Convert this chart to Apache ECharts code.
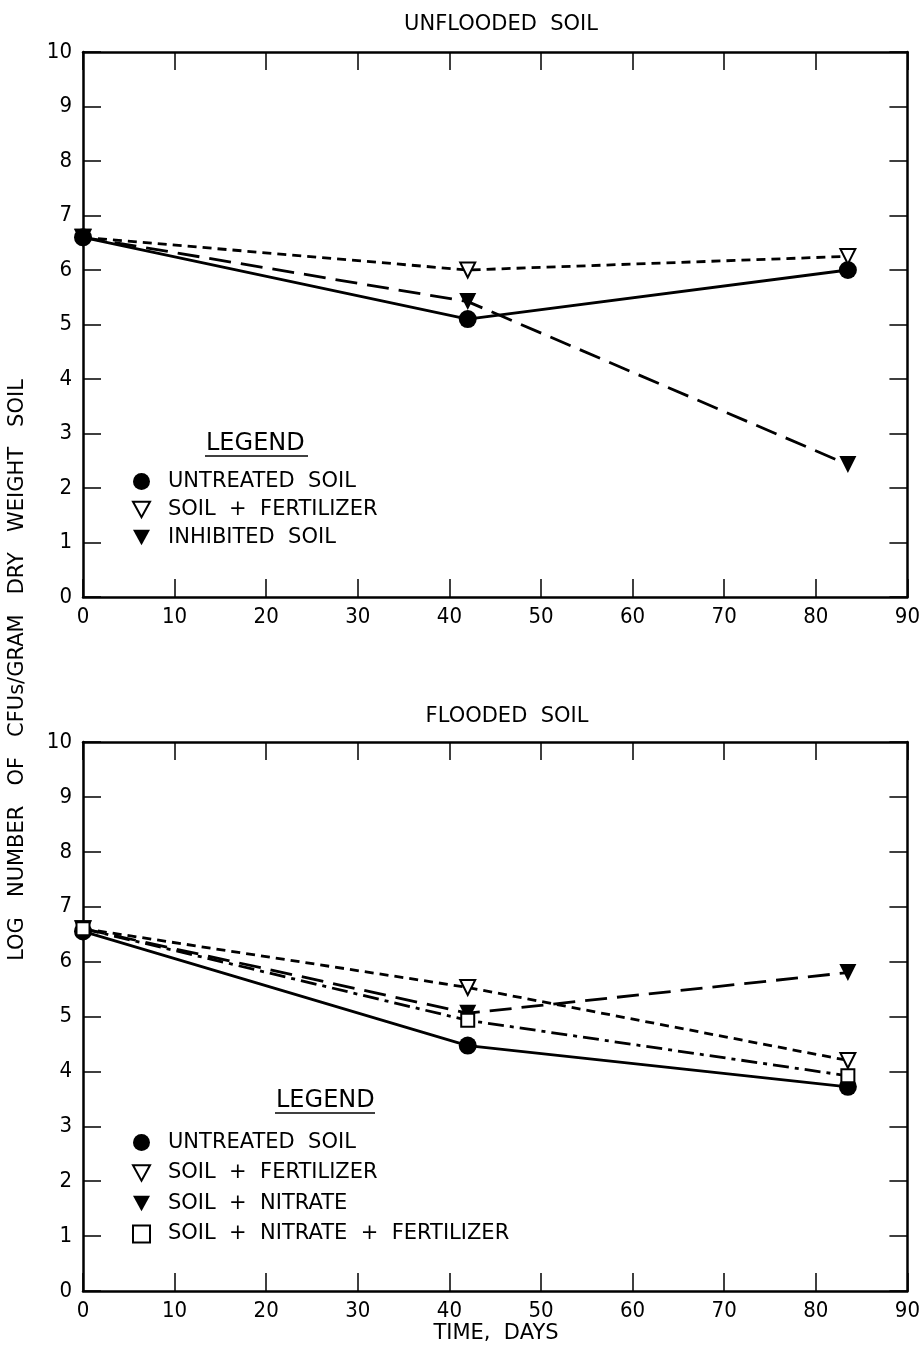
<!DOCTYPE html>
<html><head><meta charset="utf-8">
<script src="https://cdn.jsdelivr.net/npm/echarts@6/dist/echarts.min.js"></script>
<style>html,body{margin:0;padding:0;background:#fff}#c{width:923px;height:1349px}</style>
</head><body><div id="c"></div>
<script>
const days = [0, 42, 83.5];
// Unflooded soil
const topUntreated = [6.6, 5.1, 6.0];
const topFertilizer = [6.6, 6.0, 6.25];
const topInhibited = [6.6, 5.42, 2.43];
// Flooded soil
const botUntreated = [6.55, 4.47, 3.72];
const botFertilizer = [6.6, 5.53, 4.2];
const botNitrate = [6.6, 5.06, 5.8];
const botNitrateFert = [6.6, 4.93, 3.92];

const FONT = "'DejaVu Sans',sans-serif";
const CFONT = "'DejaVu Sans Condensed','DejaVu Sans',sans-serif";
const TRI_DOWN = 'path://M0,0 L10,0 L5,9 Z';
const pair = (ys) => days.map((d,i)=>[d, ys[i]]);

function xAx(gi, pos, show){
  return {type:'value', gridIndex:gi, position:pos, min:0, max:90, interval:10,
    axisLine:{show:true, onZero:false, lineStyle:{color:'#000', width:2.5}},
    axisTick:{show:true, inside:true, length:18, lineStyle:{color:'#000', width:1.5}},
    axisLabel:{show:show, color:'#000', fontFamily:CFONT, fontSize:22, margin:9},
    splitLine:{show:false}};
}
function yAx(gi, pos, show){
  return {type:'value', gridIndex:gi, position:pos, min:0, max:10, interval:1,
    axisLine:{show:true, onZero:false, lineStyle:{color:'#000', width:2.5}},
    axisTick:{show:true, inside:true, length:18, lineStyle:{color:'#000', width:1.5}},
    axisLabel:{show:show, color:'#000', fontFamily:CFONT, fontSize:22, margin:11},
    splitLine:{show:false}};
}
function ser(name, data, xi, yi, symbol, hollow, dash, size){
  return {name, type:'line', data, xAxisIndex:xi, yAxisIndex:yi,
    symbol, symbolSize:size||16, showSymbol:true, z: 5,
    itemStyle:{color: hollow?'#fff':'#000', borderColor:'#000', borderWidth: hollow?2:0},
    lineStyle:{color:'#000', width:2.8, type: dash},
    emphasis:{disabled:true}, animation:false};
}
const legText = {fontFamily:FONT, fontSize:21, color:'#000', padding:[0,0,0,13]};

const chart = echarts.init(document.getElementById('c'));
chart.setOption({
  backgroundColor:'#fff',
  animation:false,
  title:[
    {text:'UNFLOODED  SOIL', left:496, top:9, textAlign:'center', textStyle:{fontFamily:FONT, fontSize:21, fontWeight:'normal', color:'#000'}},
    {text:'FLOODED  SOIL', left:502, top:701, textAlign:'center', textStyle:{fontFamily:FONT, fontSize:21, fontWeight:'normal', color:'#000'}}
  ],
  grid:[
    {left:83, right:14, top:52, height:545},
    {left:83, right:14, top:742, height:549}
  ],
  xAxis:[xAx(0,'bottom',true), xAx(0,'top',false), xAx(1,'bottom',true), xAx(1,'top',false)],
  yAxis:[yAx(0,'left',true), yAx(0,'right',false), yAx(1,'left',true), yAx(1,'right',false)],
  legend:[
    {left:132, top:471, padding:0, orient:'vertical', itemGap:7, itemWidth:17, itemHeight:17,
     textStyle:legText,
     data:[{name:'UNTREATED  SOIL', icon:'circle'},{name:'SOIL  +  FERTILIZER', icon:TRI_DOWN},{name:'INHIBITED  SOIL', icon:TRI_DOWN}]},
    {left:132, top:1132, padding:0, orient:'vertical', itemGap:9.5, itemWidth:17, itemHeight:17,
     textStyle:legText,
     data:[{name:'UNTREATED  SOIL ', icon:'circle'},{name:'SOIL  +  FERTILIZER ', icon:TRI_DOWN},{name:'SOIL  +  NITRATE', icon:TRI_DOWN},{name:'SOIL  +  NITRATE  +  FERTILIZER', icon:'rect'}]}
  ],
  graphic:[
    {type:'text', left:206, top:432, style:{text:'LEGEND', font:'24px '+FONT, fill:'#000'}},
    {type:'line', shape:{x1:205, y1:456, x2:308, y2:456}, style:{stroke:'#000', lineWidth:1.5}},
    {type:'text', left:276, top:1089, style:{text:'LEGEND', font:'24px '+FONT, fill:'#000'}},
    {type:'line', shape:{x1:275, y1:1113, x2:375, y2:1113}, style:{stroke:'#000', lineWidth:1.5}},
    {type:'text', x:18, y:670, rotation:Math.PI/2, style:{text:'LOG   NUMBER   OF   CFUs/GRAM   DRY   WEIGHT   SOIL', font:'21px '+FONT, fill:'#000', align:'center', verticalAlign:'middle'}},
    {type:'text', x:496, y:1334, style:{text:'TIME,  DAYS', font:'21px '+FONT, fill:'#000', align:'center', verticalAlign:'middle'}}
  ],
  series:[
    ser('UNTREATED  SOIL', pair(topUntreated), 0, 0, 'circle', false, 'solid', 18),
    ser('SOIL  +  FERTILIZER', pair(topFertilizer), 0, 0, TRI_DOWN, true, [9,6], 15),
    ser('INHIBITED  SOIL', pair(topInhibited), 0, 0, TRI_DOWN, false, [22,10], 17),
    ser('UNTREATED  SOIL ', pair(botUntreated), 2, 2, 'circle', false, 'solid', 18),
    ser('SOIL  +  FERTILIZER ', pair(botFertilizer), 2, 2, TRI_DOWN, true, [9,6], 15),
    ser('SOIL  +  NITRATE', pair(botNitrate), 2, 2, TRI_DOWN, false, [22,10], 17),
    ser('SOIL  +  NITRATE  +  FERTILIZER', pair(botNitrateFert), 2, 2, 'rect', true, [16,6,4,6], 13)
  ]
});
</script></body></html>
